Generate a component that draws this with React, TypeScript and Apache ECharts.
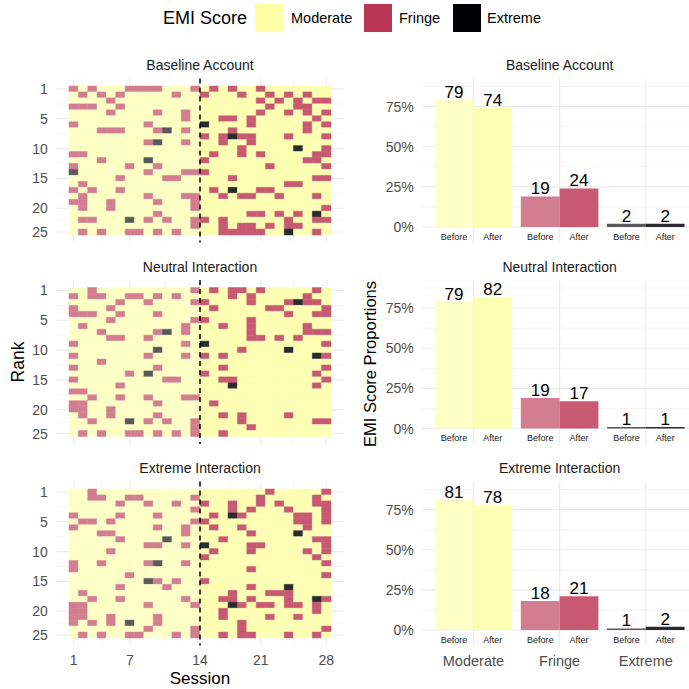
import React, { useEffect, useRef } from 'react';
import * as echarts from 'echarts';

// ---------- data ----------
const panelTitles = ['Baseline Account', 'Neutral Interaction', 'Extreme Interaction'];
const scoreLevels = ['Moderate', 'Fringe', 'Extreme'];
const periods = ['Before', 'After'];

const sessionTickValues = [1, 7, 14.5, 21, 28];
const sessionTickLabels = ['1', '7', '14', '21', '28'];
const sessionMinorValues = [4, 10.75, 17.75, 24.5];
const rankTickValues = [1, 6, 11, 16, 21, 25];
const rankTickLabels = ['1', '5', '10', '15', '20', '25'];
const rankMinorValues = [3.5, 8.5, 13.5, 18.5, 23];
const pctTickValues = [0, 25, 50, 75];
const pctMinorValues = [12.5, 37.5, 62.5, 87.5];
const switchSession = 14.5;

// fringe sessions per rank (rank 1 .. 25)
const baselineFringe = [
  [1, 3, 7, 8, 9, 10, 14, 16, 18, 21],
  [2, 4, 6, 12, 15, 19, 22, 24, 26],
  [5, 21, 23, 25, 27, 28],
  [1, 2, 3, 6, 22, 25, 26],
  [5, 10, 13, 21, 24, 26, 28],
  [13, 17, 18, 20, 27],
  [1, 9, 20, 26, 28],
  [4, 5, 6, 10, 13, 18, 26],
  [15, 17, 19, 20, 24, 28],
  [9, 13, 17, 20],
  [19, 28],
  [1, 2, 16, 19, 21, 27, 28],
  [4, 15, 26, 27],
  [1, 7, 10, 22, 28],
  [9, 13, 14, 15],
  [6, 11, 12, 18, 27, 28],
  [2, 24, 25],
  [1, 3, 6, 16, 21, 22],
  [2, 9, 13, 14, 17, 19, 20, 23, 27],
  [1, 2, 5, 10, 14],
  [2, 5, 14, 28],
  [10, 20, 21, 23, 25],
  [2, 3, 9, 11, 14, 15, 17, 24, 27, 28],
  [14, 17, 19, 20, 22, 24, 25],
  [2, 4, 7, 8, 10, 12, 17, 18, 19, 20, 21, 27],
];
// [rank, session]
const baselineExtreme = [[7, 15], [8, 11], [9, 18], [10, 10], [11, 25], [13, 9], [15, 1], [18, 18], [22, 27], [23, 7], [25, 24]];

const neutralFringe = [
  [3, 14, 16, 18, 19, 21, 27],
  [1, 3, 4, 7, 8, 10, 12, 18, 20, 26],
  [6, 9, 14, 15, 20, 24, 26, 27],
  [1, 5, 16, 22, 23, 28],
  [1, 2, 3, 6, 10, 24, 27, 28],
  [5, 14, 15, 20],
  [2, 13, 17, 20, 26],
  [4, 10, 13, 20, 26, 27, 28],
  [5, 6, 9, 20, 21, 23, 25],
  [1, 13, 28],
  [19],
  [1, 9, 13, 15, 17, 28],
  [4],
  [1, 10, 17, 28],
  [7, 15, 27],
  [1, 11, 12, 17, 18, 28],
  [6, 27],
  [1, 2],
  [3, 6, 9, 13, 14],
  [1, 2, 10, 16],
  [1, 2, 5],
  [2, 5, 10, 17, 19, 24],
  [3, 9, 11, 14, 19, 27, 28],
  [14, 20],
  [2, 4, 7, 8, 10, 12, 14, 17],
];
const neutralExtreme = [[3, 25], [8, 11], [10, 15], [11, 10], [11, 24], [12, 27], [15, 9], [17, 18], [23, 7]];

const extremeFringe = [
  [3, 22, 28],
  [3, 4, 7, 8, 14, 21, 27],
  [6, 9, 12, 15, 18, 21, 23, 27, 28],
  [14, 18, 20, 24, 28],
  [1, 6, 10, 16, 19, 25, 26, 28],
  [2, 3, 5, 14, 15, 25, 26, 28],
  [1, 10, 13, 16, 19, 26],
  [4, 5, 13, 20],
  [6, 17, 27, 28],
  [9, 10, 13, 20, 21, 28],
  [5, 16, 20, 26, 28],
  [15, 27],
  [1, 4, 9, 13, 28],
  [1, 20],
  [7, 28],
  [10, 12, 15],
  [6, 11, 20],
  [2, 18, 22, 23, 24],
  [3, 6, 13, 17, 18, 20, 24, 28],
  [1, 2, 9, 14, 19, 21, 22, 24, 25, 27],
  [1, 2, 17, 27],
  [1, 2, 5, 10, 17, 22, 25],
  [1, 3, 5, 10, 19],
  [9, 14, 19, 28],
  [2, 4, 7, 8, 12, 14, 17, 19, 20, 24, 27],
];
const extremeExtreme = [[5, 18], [8, 25], [9, 11], [10, 15], [13, 10], [16, 9], [17, 24], [19, 27], [20, 18], [23, 7]];

// bar proportions (%), order: Moderate, Fringe, Extreme
const baselineBefore = [79, 19, 2];
const baselineAfter = [74, 24, 2];
const neutralBefore = [79, 19, 1];
const neutralAfter = [82, 17, 1];
const extremeBefore = [81, 18, 1];
const extremeAfter = [78, 21, 2];

// ---------- styling ----------
const FONT = "'Liberation Sans', Arial, Helvetica, sans-serif";
const levelRGB = [[252, 255, 164], [187, 55, 84], [0, 0, 4]];
const alphaBefore = 0.65;
const alphaAfter = 0.83;
const blend = (rgb: number[], a: number) =>
  `rgb(${rgb.map((c) => Math.round(c * a + 255 * (1 - a))).join(',')})`;
const beforeColors = levelRGB.map((c) => blend(c, alphaBefore));
const afterColors = levelRGB.map((c) => blend(c, alphaAfter));
const legendColors = ['#FCFFA4', '#BB3754', '#000004'];

const GRID_TOPS = [78.55, 280.05, 481.55];
const GRID_H = 163.9;
const HEAT_LEFT = 55.9;
const HEAT_W = 288.2;
const BAR_LEFT = 421.7;
const BAR_W = 275.8;
const HX = [-0.9, 29.9];
const HY = [-0.75, 26.75];
const BX = [-0.6, 2.6];
const BY = [-9.6, 92.4];
const AXIS_TEXT = '#4D4D4D';
const GRID_COLOR = '#EBEBEB';

function buildCells(fringe: number[][], extreme: number[][]) {
  const cells: number[][] = [];
  for (let r = 1; r <= 25; r++) {
    for (let s = 1; s <= 28; s++) {
      let k = 0;
      if (fringe[r - 1].includes(s)) k = 1;
      if (extreme.some((e) => e[0] === r && e[1] === s)) k = 2;
      cells.push([s, r, k]);
    }
  }
  return cells;
}

const panels = [
  { fringe: baselineFringe, extreme: baselineExtreme, before: baselineBefore, after: baselineAfter },
  { fringe: neutralFringe, extreme: neutralExtreme, before: neutralBefore, after: neutralAfter },
  { fringe: extremeFringe, extreme: extremeExtreme, before: extremeBefore, after: extremeAfter },
];

function gridLineRender(xr: number[], yr: number[]) {
  return (params: any, api: any) => {
    const v = api.value(0);
    const dir = api.value(1);
    const major = api.value(2);
    const a = dir === 0 ? api.coord([v, yr[0]]) : api.coord([xr[0], v]);
    const b = dir === 0 ? api.coord([v, yr[1]]) : api.coord([xr[1], v]);
    return {
      type: 'line',
      shape: { x1: a[0], y1: a[1], x2: b[0], y2: b[1] },
      style: { stroke: GRID_COLOR, lineWidth: major ? 1.1 : 0.55 },
      silent: true,
    };
  };
}

function buildOption() {
  const grid: any[] = [];
  const xAxis: any[] = [];
  const yAxis: any[] = [];
  const series: any[] = [];
  const graphic: any[] = [];

  const heatLines = [
    ...sessionTickValues.map((v) => [v, 0, 1]),
    ...sessionMinorValues.map((v) => [v, 0, 0]),
    ...rankTickValues.map((v) => [v, 1, 1]),
    ...rankMinorValues.map((v) => [v, 1, 0]),
  ];
  const barLines = [
    ...[0, 1, 2].map((v) => [v, 0, 1]),
    ...pctTickValues.map((v) => [v, 1, 1]),
    ...pctMinorValues.map((v) => [v, 1, 0]),
  ];

  panels.forEach((p, i) => {
    const hg = 2 * i;
    const bg = 2 * i + 1;
    grid.push({ left: HEAT_LEFT, top: GRID_TOPS[i], width: HEAT_W, height: GRID_H, outerBoundsMode: 'none' });
    grid.push({ left: BAR_LEFT, top: GRID_TOPS[i], width: BAR_W, height: GRID_H, outerBoundsMode: 'none' });

    xAxis.push({
      type: 'value', gridIndex: hg, min: HX[0], max: HX[1],
      axisLine: { show: false }, axisTick: { show: false }, splitLine: { show: false },
      axisLabel: i === 2
        ? {
            customValues: sessionTickValues,
            formatter: (v: number) => sessionTickLabels[sessionTickValues.indexOf(v)] ?? '',
            margin: 8, fontSize: 14, color: AXIS_TEXT, fontFamily: FONT,
          }
        : { show: false },
    });
    yAxis.push({
      type: 'value', gridIndex: hg, min: HY[0], max: HY[1], inverse: true,
      axisLine: { show: false }, axisTick: { show: false }, splitLine: { show: false },
      axisLabel: {
        customValues: rankTickValues,
        formatter: (v: number) => rankTickLabels[rankTickValues.indexOf(v)] ?? '',
        margin: 8, fontSize: 14, color: AXIS_TEXT, fontFamily: FONT,
      },
    });
    xAxis.push({
      type: 'value', gridIndex: bg, min: BX[0], max: BX[1],
      axisLine: { show: false }, axisTick: { show: false }, splitLine: { show: false },
      axisLabel: i === 2
        ? {
            customValues: [0, 1, 2],
            formatter: (v: number) => scoreLevels[v] ?? '',
            margin: 8, fontSize: 14.5, color: AXIS_TEXT, fontFamily: FONT,
          }
        : { show: false },
    });
    yAxis.push({
      type: 'value', gridIndex: bg, min: BY[0], max: BY[1],
      axisLine: { show: false }, axisTick: { show: false }, splitLine: { show: false },
      axisLabel: {
        customValues: pctTickValues,
        formatter: (v: number) => `${v}%`,
        margin: 8, fontSize: 14, color: AXIS_TEXT, fontFamily: FONT,
      },
    });

    // heatmap grid lines
    series.push({
      type: 'custom', xAxisIndex: hg, yAxisIndex: hg, z: 1, silent: true,
      renderItem: gridLineRender(HX, HY), data: heatLines,
    });
    // tiles
    series.push({
      type: 'custom', xAxisIndex: hg, yAxisIndex: hg, z: 2, silent: true,
      data: buildCells(p.fringe, p.extreme),
      renderItem: (params: any, api: any) => {
        const s = api.value(0);
        const r = api.value(1);
        const k = api.value(2);
        const a = api.coord([s - 0.5, r - 0.5]);
        const b = api.coord([s + 0.5, r + 0.5]);
        const color = s < switchSession ? beforeColors[k] : afterColors[k];
        return {
          type: 'rect',
          shape: {
            x: Math.min(a[0], b[0]), y: Math.min(a[1], b[1]),
            width: Math.abs(b[0] - a[0]), height: Math.abs(b[1] - a[1]),
          },
          style: { fill: color, stroke: color, lineWidth: 0.5 },
        };
      },
    });
    // dashed switch line
    series.push({
      type: 'custom', xAxisIndex: hg, yAxisIndex: hg, z: 3, silent: true,
      data: [[switchSession, 0]],
      renderItem: (params: any, api: any) => {
        const a = api.coord([api.value(0), HY[0]]);
        const b = api.coord([api.value(0), HY[1]]);
        return {
          type: 'line',
          shape: { x1: a[0], y1: a[1], x2: b[0], y2: b[1] },
          style: { stroke: '#000', lineWidth: 1.5, lineDash: [5, 4] },
        };
      },
    });

    // bar grid lines
    series.push({
      type: 'custom', xAxisIndex: bg, yAxisIndex: bg, z: 1, silent: true,
      renderItem: gridLineRender(BX, BY), data: barLines,
    });
    const barData: number[][] = [];
    [p.before, p.after].forEach((vals, pi) => vals.forEach((v, c) => barData.push([c, v, pi])));
    series.push({
      type: 'custom', xAxisIndex: bg, yAxisIndex: bg, z: 2, silent: true,
      data: barData,
      renderItem: (params: any, api: any) => {
        const c = api.value(0);
        const v = api.value(1);
        const pi = api.value(2);
        const xc = c + (pi === 0 ? -0.225 : 0.225);
        const a = api.coord([xc - 0.225, v]);
        const b = api.coord([xc + 0.225, 0]);
        const top = api.coord([xc, v]);
        const lab = api.coord([xc, -6]);
        const color = (pi === 0 ? beforeColors : afterColors)[c];
        return {
          type: 'group',
          children: [
            { type: 'rect', shape: { x: a[0], y: a[1], width: b[0] - a[0], height: b[1] - a[1] }, style: { fill: color } },
            {
              type: 'text', x: top[0], y: top[1] - 7.5,
              style: { text: String(v), fill: '#000', fontSize: 17, fontFamily: FONT, align: 'center', verticalAlign: 'middle' },
            },
            {
              type: 'text', x: lab[0], y: lab[1],
              style: { text: periods[pi], fill: '#1A1A1A', fontSize: 9, fontFamily: FONT, align: 'center', verticalAlign: 'middle' },
            },
          ],
        };
      },
    });

    // panel strip titles
    const ty = 65 + i * 201.5;
    graphic.push({
      type: 'text', x: HEAT_LEFT + HEAT_W / 2, y: ty,
      style: { text: panelTitles[i], fill: '#1A1A1A', fontSize: 14, fontFamily: FONT, align: 'center', verticalAlign: 'middle' },
    });
    graphic.push({
      type: 'text', x: 559.6, y: ty,
      style: { text: panelTitles[i], fill: '#1A1A1A', fontSize: 14, fontFamily: FONT, align: 'center', verticalAlign: 'middle' },
    });
  });

  // legend
  graphic.push({
    type: 'text', x: 163, y: 18,
    style: { text: 'EMI Score', fill: '#000', fontSize: 18, fontFamily: FONT, align: 'left', verticalAlign: 'middle' },
  });
  const swatchX = [255, 364, 453];
  const labelX = [291, 399, 487];
  scoreLevels.forEach((lvl, k) => {
    graphic.push({ type: 'rect', shape: { x: swatchX[k], y: 4, width: 28, height: 28 }, style: { fill: legendColors[k] } });
    graphic.push({
      type: 'text', x: labelX[k], y: 18,
      style: { text: lvl, fill: '#000', fontSize: 14.5, fontFamily: FONT, align: 'left', verticalAlign: 'middle' },
    });
  });

  // axis titles
  graphic.push({
    type: 'text', x: 18, y: 362, rotation: Math.PI / 2,
    style: { text: 'Rank', fill: '#000', fontSize: 17.5, fontFamily: FONT, align: 'center', verticalAlign: 'middle' },
  });
  graphic.push({
    type: 'text', x: 370, y: 364, rotation: Math.PI / 2,
    style: { text: 'EMI Score Proportions', fill: '#000', fontSize: 16.5, fontFamily: FONT, align: 'center', verticalAlign: 'middle' },
  });
  graphic.push({
    type: 'text', x: HEAT_LEFT + HEAT_W / 2, y: 678,
    style: { text: 'Session', fill: '#000', fontSize: 17, fontFamily: FONT, align: 'center', verticalAlign: 'middle' },
  });

  return {
    animation: false,
    backgroundColor: '#FFFFFF',
    textStyle: { fontFamily: FONT },
    grid, xAxis, yAxis, series, graphic,
  };
}

export default function App() {
  const ref = useRef<HTMLDivElement>(null);
  useEffect(() => {
    if (!ref.current) return;
    const chart = echarts.init(ref.current, undefined, { renderer: 'svg' });
    chart.setOption(buildOption() as any);
    return () => chart.dispose();
  }, []);
  return (
    <div
      ref={ref}
      style={{ position: 'fixed', left: 0, top: 0, width: 689, height: 689, background: '#fff' }}
    />
  );
}
